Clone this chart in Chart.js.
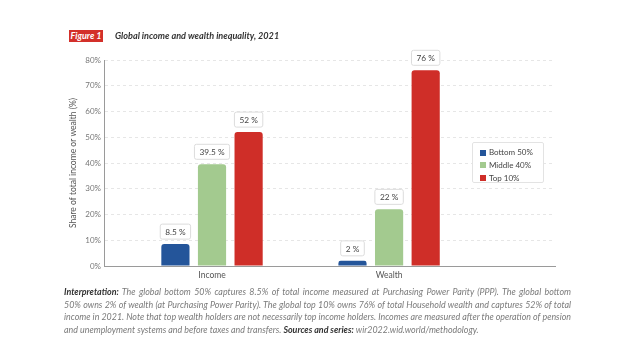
<!DOCTYPE html>
<html>
<head>
<meta charset="utf-8">
<script src="https://cdn.jsdelivr.net/npm/chart.js@4.4.1/dist/chart.umd.min.js"></script>
<style>
  html, body { margin: 0; padding: 0; background: #fff; }
  body { width: 640px; height: 351px; position: relative; overflow: hidden; font-family: 'Lato', sans-serif; }
  #myPlot { position: absolute; left: 0; top: 0; }
  .fig { position: absolute; left: 69px; top: 30px; width: 34px; height: 12px; background: #d3302a;
         color: #fff; font-size: 9px; font-style: italic; font-weight: bold; line-height: 12px; text-align: center; }
  .title { position: absolute; left: 115px; top: 30px; font-size: 9.1px; font-style: italic; font-weight: bold;
           color: #333; line-height: 12px; white-space: nowrap; }
  .legend { position: absolute; left: 472px; top: 142px; width: 72px; height: 41px; border: 1px solid #e3e3e3;
            border-radius: 2px; background: #fff; box-sizing: border-box; padding-top: 3px; }
  .legend div { font-size: 8px; color: #444; line-height: 12.8px; padding-left: 7px; white-space: nowrap; }
  .legend span { display: inline-block; width: 6px; height: 6px; margin-right: 3px; vertical-align: -0.5px; }
  .caption { position: absolute; left: 64px; top: 286px; width: 507px; font-size: 8.9px; font-style: italic;
             color: #7a7a7a; line-height: 12.7px; }
  .caption div { white-space: nowrap; text-align: justify; text-align-last: justify; }
  .caption div.last { text-align-last: left; }
  .caption b { color: #333; }
</style>
</head>
<body>
<canvas id="myPlot" width="640" height="351"></canvas>
<div class="fig">Figure 1</div>
<div class="title">Global income and wealth inequality, 2021</div>
<div class="legend" id="legend"></div>
<div class="caption">
  <div><b>Interpretation:</b> The global bottom 50% captures 8.5% of total income measured at Purchasing Power Parity (PPP). The global bottom</div>
  <div>50% owns 2% of wealth (at Purchasing Power Parity). The global top 10% owns 76% of total Household wealth and captures 52% of total</div>
  <div>income in 2021. Note that top wealth holders are not necessarily top income holders. Incomes are measured after the operation of pension</div>
  <div class="last">and unemployment systems and before taxes and transfers. <b>Sources and series:</b> wir2022.wid.world/methodology.</div>
</div>
<script>
const categories = ['Income', 'Wealth'];
const seriesNames = ['Bottom 50%', 'Middle 40%', 'Top 10%'];
const seriesColors = ['#24559a', '#a3ca8f', '#cf2e28'];
const bottom50 = [8.5, 2];
const middle40 = [39.5, 22];
const top10 = [52, 76];
const yTicks = [0, 10, 20, 30, 40, 50, 60, 70, 80];

const seriesValues = [bottom50, middle40, top10];

// x range chosen so the two groups sit where they do in the figure
const X_MIN = 0.39;
const X_MAX = 2.937;

// legend (html, sits inside the plot area)
document.getElementById('legend').innerHTML = seriesNames
    .map((n, i) => '<div><span style="background:' + seriesColors[i] + '"></span>' + n + '</div>')
    .join('');

// little boxed value labels above each bar
const valueBoxes = {
    id: 'valueBoxes',
    afterDatasetsDraw(chart) {
        const ctx = chart.ctx;
        ctx.save();
        ctx.font = '8.3px Lato';
        ctx.textAlign = 'center';
        ctx.textBaseline = 'middle';
        chart.data.datasets.forEach((ds, di) => {
            chart.getDatasetMeta(di).data.forEach((bar, i) => {
                const txt = ds.data[i].y + ' %';
                const w = ctx.measureText(txt).width + 10;
                const h = 15;
                const x = bar.x - w / 2;
                const y = bar.y - 5 - h;
                ctx.beginPath();
                ctx.roundRect(x, y, w, h, 2);
                ctx.fillStyle = '#fff';
                ctx.fill();
                ctx.strokeStyle = '#dcdcdc';
                ctx.lineWidth = 1;
                ctx.stroke();
                ctx.fillStyle = '#444';
                ctx.fillText(txt, bar.x, y + h / 2 + 0.5);
            });
        });
        ctx.restore();
    }
};

new Chart(document.getElementById('myPlot'), {
    type: 'bar',
    data: {
        datasets: seriesNames.map((name, si) => ({
            label: name,
            data: seriesValues[si].map((v, ci) => ({ x: ci + 1, y: v })),
            backgroundColor: seriesColors[si],
            borderRadius: { topLeft: 3, topRight: 3 },
            borderSkipped: 'bottom',
            categoryPercentage: 0.62,
            barPercentage: 0.77
        }))
    },
    options: {
        animation: false,
        responsive: false,
        layout: { padding: { left: 68, top: 60, right: 85, bottom: 64 } },
        plugins: {
            legend: { display: false },
            tooltip: { enabled: false }
        },
        scales: {
            x: {
                type: 'linear',
                bounds: 'data',
                offset: false,
                min: X_MIN,
                max: X_MAX,
                afterBuildTicks: s => {
                    s.ticks = categories.map((c, i) => ({ value: i + 1 }));
                    s.min = X_MIN;
                    s.max = X_MAX;
                },
                afterFit: s => { s.height = 21; },
                grid: { display: false },
                border: { display: true, color: '#9a9a9a', width: 1 },
                ticks: {
                    callback: v => categories[v - 1],
                    color: '#555',
                    padding: -4,
                    font: { family: 'Lato', size: 8.5 }
                }
            },
            y: {
                min: 0,
                max: 80,
                afterBuildTicks: s => { s.ticks = yTicks.map(v => ({ value: v })); },
                afterFit: s => { s.width = 36; },
                grid: { color: '#e6e6e6', drawTicks: false },
                border: { display: true, color: '#9a9a9a', width: 1, dash: [3, 3] },
                title: {
                    display: true,
                    text: 'Share of total income or wealth (%)',
                    color: '#555',
                    padding: 0,
                    font: { family: 'Lato', size: 8.5 }
                },
                ticks: {
                    callback: v => v + '%',
                    color: '#777',
                    padding: 3,
                    font: { family: 'Lato', size: 8 }
                }
            }
        }
    },
    plugins: [valueBoxes]
});
</script>
</body>
</html>
